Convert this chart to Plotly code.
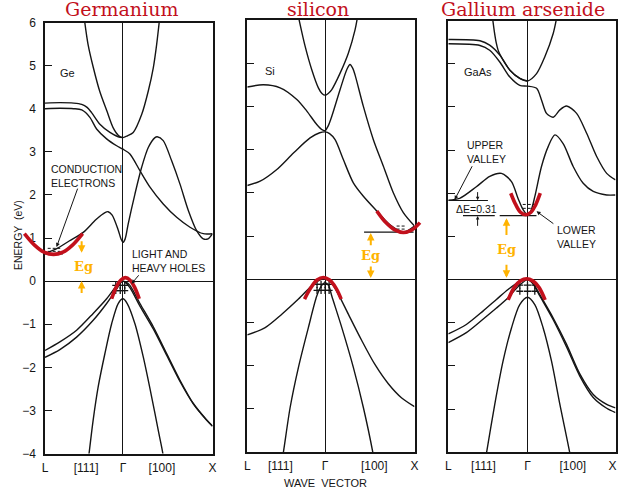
import plotly.graph_objects as go

W, H = 618, 495
BLACK = "#151515"
RED = "#c2101c"
GOLD = "#ffb300"
SANS = "Liberation Sans, Arial, sans-serif"
SERIF = "DejaVu Serif, serif"

# ---------------- tick labels ----------------
e_ticks = [-4, -3, -2, -1, 0, 1, 2, 3, 4, 5, 6]
k_ticktext = ["L", "[111]", "Γ", "[100]", "X"]
ge_kticks = [-0.87, -0.41, 0.0, 0.435, 1.0]
si_kticks = [-0.87, -0.50, 0.0, 0.55, 1.0]
ga_kticks = [-0.90, -0.50, 0.0, 0.515, 0.965]
titles = ["Germanium", "silicon", "Gallium arsenide"]

# ---------------- Germanium bands (k, E in eV) ----------------
ge_a_k = [-0.432, -0.39, -0.33, -0.26, -0.18, -0.11, -0.05, 0.0, 0.05, 0.115, 0.21, 0.283, 0.339, 0.377, 0.41]
ge_a_E = [6.1, 5.5, 4.95, 4.41, 3.95, 3.56, 3.38, 3.33, 3.37, 3.45, 3.87, 4.41, 4.95, 5.5, 6.1]
ge_b_k = [-0.87, -0.7, -0.55, -0.46, -0.40, -0.35, -0.257, -0.145, -0.053, 0.0]
ge_b_E = [4.13, 4.14, 4.13, 4.10, 4.03, 3.91, 3.64, 3.45, 3.35, 3.33]
ge_c_k = [-0.87, -0.7, -0.55, -0.46, -0.369, -0.294, -0.182, -0.07, 0.0, 0.078, 0.19, 0.302, 0.45, 0.6, 0.749, 0.897, 1.0]
ge_c_E = [4.0, 4.01, 4.0, 3.97, 3.80, 3.53, 3.30, 3.14, 3.06, 2.95, 2.56, 2.18, 1.79, 1.48, 1.25, 1.10, 1.10]
ge_d_k = [-0.87, -0.75, -0.6, -0.443, -0.3, -0.2, -0.165, -0.12, -0.052, -0.02, 0.0, 0.025, 0.059, 0.134,
          0.209, 0.283, 0.358, 0.383, 0.45, 0.544, 0.637, 0.73, 0.823, 0.897, 0.95, 1.0]
ge_d_E = [0.64, 0.74, 0.93, 1.13, 1.43, 1.59, 1.61, 1.53, 1.18, 0.97, 0.90, 0.98, 1.33, 2.02,
          2.64, 3.10, 3.33, 3.35, 3.26, 2.79, 2.25, 1.64, 1.17, 0.98, 0.98, 1.10]
ge_v1_k = [-0.87, -0.704, -0.517, -0.332, -0.182, -0.07, -0.03, 0.0, 0.03, 0.078, 0.19, 0.339, 0.488, 0.637, 0.786, 0.935, 1.0]
ge_v1_E = [-1.61, -1.41, -1.14, -0.75, -0.41, -0.10, -0.02, 0.0, -0.02, -0.10, -0.52, -1.06, -1.68, -2.30, -2.84, -3.22, -3.36]
ge_v2_k = [-0.87, -0.704, -0.517, -0.332, -0.182, -0.07, -0.03, 0.0, 0.03, 0.078, 0.19, 0.339, 0.488, 0.637, 0.786, 0.935, 1.0]
ge_v2_E = [-1.77, -1.59, -1.30, -0.91, -0.52, -0.18, -0.05, 0.0, -0.04, -0.15, -0.58, -1.11, -1.72, -2.33, -2.85, -3.23, -3.37]
ge_so_k = [-0.39, -0.377, -0.332, -0.276, -0.201, -0.126, -0.053, 0.0, 0.048, 0.134, 0.227, 0.321, 0.394, 0.444, 0.455]
ge_so_E = [-4.2, -3.98, -3.22, -2.45, -1.68, -0.99, -0.52, -0.41, -0.52, -0.99, -1.76, -2.69, -3.46, -3.98, -4.2]

# ---------------- Silicon bands ----------------
si_a_k = [-0.30, -0.287, -0.223, -0.149, -0.075, -0.035, 0.0, 0.035, 0.075, 0.168, 0.26, 0.335, 0.365]
si_a_E = [6.1, 5.97, 5.39, 4.85, 4.43, 4.30, 4.26, 4.30, 4.39, 4.77, 5.23, 5.77, 6.1]
si_b_k = [-0.87, -0.689, -0.503, -0.316, -0.204, -0.093, -0.04, 0.0, 0.035, 0.075, 0.168, 0.242, 0.279,
          0.31, 0.335, 0.428, 0.54, 0.651, 0.763, 0.875, 1.0]
si_b_E = [4.45, 4.50, 4.43, 4.16, 3.89, 3.58, 3.47, 3.44, 3.55, 3.77, 4.39, 4.85, 4.97,
          4.88, 4.73, 4.00, 3.23, 2.62, 2.00, 1.54, 1.23]
si_c_k = [-0.87, -0.726, -0.54, -0.354, -0.168, -0.06, 0.0, 0.05, 0.112, 0.204, 0.316, 0.428, 0.578, 0.726, 0.875, 1.0]
si_c_E = [2.17, 2.27, 2.54, 2.92, 3.27, 3.39, 3.41, 3.37, 3.23, 2.77, 2.23, 1.92, 1.58, 1.26, 1.09, 1.23]
si_hh_k = [-0.87, -0.67, -0.484, -0.298, -0.149, -0.06, 0.0, 0.06, 0.149, 0.26, 0.41, 0.559, 0.707, 0.857, 1.0]
si_hh_E = [-1.29, -1.12, -0.81, -0.46, -0.15, -0.02, 0.0, -0.05, -0.35, -0.81, -1.42, -1.98, -2.42, -2.75, -2.95]
si_lh_k = [-0.48, -0.466, -0.391, -0.298, -0.187, -0.093, -0.04, 0.0, 0.04, 0.075, 0.187, 0.316, 0.428, 0.533, 0.545]
si_lh_E = [-4.15, -4.0, -2.97, -2.04, -1.12, -0.39, -0.15, -0.08, -0.15, -0.39, -1.12, -2.04, -2.97, -4.0, -4.15]

# ---------------- Gallium arsenide bands ----------------
ga_a_k = [-0.40, -0.375, -0.355, -0.335, -0.31, -0.2, -0.088, 0.0, 0.103, 0.197, 0.292, 0.335]
ga_a_E = [6.1, 5.72, 5.48, 5.32, 5.20, 4.85, 4.66, 4.60, 4.77, 5.16, 5.70, 6.1]
ga_b_k = [-0.9, -0.54, -0.43, -0.315, -0.2, -0.088, 0.0]
ga_b_E = [5.56, 5.53, 5.43, 5.20, 4.85, 4.66, 4.60]
ga_c_k = [-0.9, -0.54, -0.43, -0.315, -0.2, -0.088, 0.0, 0.103, 0.159, 0.216, 0.292, 0.368, 0.444, 0.558, 0.672, 0.786, 0.9, 1.0]
ga_c_E = [5.46, 5.42, 5.31, 5.04, 4.69, 4.50, 4.48, 4.43, 4.16, 3.85, 3.76, 3.93, 4.02, 3.85, 3.39, 2.85, 2.46, 2.31]
ga_d_k = [-0.9, -0.771, -0.581, -0.429, -0.296, -0.182, -0.107, -0.05, 0.0, 0.04, 0.083, 0.159, 0.235,
          0.311, 0.405, 0.519, 0.633, 0.747, 0.9, 1.0]
ga_d_E = [1.84, 1.88, 2.15, 2.39, 2.46, 2.27, 1.88, 1.62, 1.50, 1.60, 1.92, 2.62, 3.08,
          3.35, 3.15, 2.62, 2.23, 2.04, 1.96, 1.96]
ga_v1_k = [-0.9, -0.695, -0.506, -0.353, -0.221, -0.1, 0.0, 0.06, 0.14, 0.292, 0.444, 0.596, 0.747, 0.9, 1.0]
ga_v1_E = [-1.26, -1.04, -0.73, -0.46, -0.23, -0.06, 0.0, -0.08, -0.35, -0.89, -1.50, -2.19, -2.66, -2.89, -2.97]
ga_v2_k = [-0.9, -0.695, -0.506, -0.353, -0.221, -0.1, 0.0, 0.06, 0.14, 0.292, 0.444, 0.596, 0.747, 0.9, 1.0]
ga_v2_E = [-1.46, -1.23, -0.92, -0.66, -0.42, -0.15, 0.0, -0.09, -0.38, -0.93, -1.56, -2.24, -2.73, -2.98, -3.08]
ga_so_k = [-0.48, -0.467, -0.372, -0.278, -0.182, -0.088, 0.0, 0.083, 0.178, 0.273, 0.368, 0.482, 0.495]
ga_so_E = [-4.2, -4.03, -2.89, -1.89, -1.12, -0.58, -0.41, -0.58, -1.12, -1.89, -2.89, -4.03, -4.2]

# ---------------- highlighted valleys / hole pockets (red) ----------------
ge_cb_red_k = [-1.10, -0.99, -0.88, -0.775, -0.67, -0.56, -0.45]
ge_cb_red_E = [1.10, 0.84, 0.67, 0.62, 0.67, 0.84, 1.10]
ge_vb_red_k = [-0.126, -0.075, -0.025, 0.028, 0.08, 0.13, 0.182]
ge_vb_red_E = [-0.41, -0.14, 0.02, 0.08, 0.02, -0.14, -0.41]
si_cb_red_k = [0.578, 0.68, 0.78, 0.875, 0.97, 1.061]
si_cb_red_E = [1.58, 1.31, 1.14, 1.08, 1.14, 1.31]
si_vb_red_k = [-0.23, -0.16, -0.09, -0.02, 0.05, 0.12, 0.18]
si_vb_red_E = [-0.46, -0.20, -0.02, 0.04, -0.02, -0.20, -0.46]
ga_cb_red_k = [-0.19, -0.135, -0.08, -0.02, 0.04, 0.09, 0.145]
ga_cb_red_E = [2.0, 1.74, 1.56, 1.50, 1.56, 1.72, 2.0]
ga_vb_red_k = [-0.22, -0.15, -0.08, -0.01, 0.06, 0.13, 0.20]
ga_vb_red_E = [-0.47, -0.18, -0.03, 0.02, -0.03, -0.18, -0.47]

# ---------------- level marks ----------------
ge_gap_k = [-0.87, -0.67]
ge_gap_E = [0.63, 0.63]
ge_el_k = [-0.84, -0.70]
ge_el_E1 = [0.76, 0.76]
ge_el_E2 = [0.69, 0.69]
si_gap_k = [0.436, 0.99]
si_gap_E = [1.09, 1.09]
si_el_k = [0.80, 0.91]
si_el_E1 = [1.23, 1.23]
si_el_E2 = [1.16, 1.16]
ga_up_k = [-0.9, -0.45]
ga_up_E = [1.83, 1.83]
ga_low1_k = [-0.733, -0.372]
ga_low2_k = [-0.316, 0.102]
ga_low_E = [1.48, 1.48]
ga_el_k = [-0.054, 0.083]
ga_el_E1 = [1.74, 1.74]
ga_el_E2 = [1.65, 1.65]

# holes (+ signs)
ge_holes_k = [-0.08, -0.03, 0.02, -0.08, -0.03, 0.02]
ge_holes_E = [-0.10, -0.10, -0.10, -0.22, -0.22, -0.22]
si_holes_k = [-0.09, -0.045, 0.0, 0.045, -0.09, -0.045, 0.0, 0.045]
si_holes_E = [-0.12, -0.12, -0.12, -0.12, -0.26, -0.26, -0.26, -0.26]
ga_holes_k = [-0.087, 0.0, 0.083, -0.087, 0.0, 0.083]
ga_holes_E = [-0.13, -0.13, -0.13, -0.27, -0.27, -0.27]

# ---------------- layout geometry (pixels) ----------------
GE_BOX = (45, 212.5, 22.5, 453.5)
SI_BOX = (247.3, 414.5, 20.0, 452.0)
GA_BOX = (448.3, 615.5, 20.5, 452.3)
GE_XR = [-0.87, 1.0]
SI_XR = [-0.87, 1.0]
GA_XR = [-0.90, 1.0]
E_RANGE = [-4, 6]


def xdom(l, r):
    return [l / W, r / W]


def ydom(box):
    return [1 - box[3] / H, 1 - box[2] / H]


def ext_range(box, xr, new_l, new_r):
    s = (xr[1] - xr[0]) / (box[1] - box[0])
    return [xr[0] - (box[0] - new_l) * s, xr[1] + (new_r - box[1]) * s]


fig = go.Figure()


def band(k, E, xa, ya, width=1.4):
    fig.add_trace(go.Scatter(x=k, y=E, mode="lines", xaxis=xa, yaxis=ya, hoverinfo="skip",
                             line=dict(color=BLACK, width=width, shape="spline", smoothing=0.8)))


def seg(k, E, xa, ya, dash="solid", width=1.1):
    fig.add_trace(go.Scatter(x=k, y=E, mode="lines", xaxis=xa, yaxis=ya, hoverinfo="skip",
                             line=dict(color=BLACK, width=width, dash=dash)))


def red(k, E, xa, ya):
    fig.add_trace(go.Scatter(x=k, y=E, mode="lines", xaxis=xa, yaxis=ya, hoverinfo="skip",
                             line=dict(color=RED, width=3.6, shape="spline", smoothing=1.0)))


def holes(k, E, xa, ya):
    fig.add_trace(go.Scatter(x=k, y=E, mode="markers", xaxis=xa, yaxis=ya, hoverinfo="skip",
                             marker=dict(symbol="cross-thin", size=5, line=dict(color=BLACK, width=1.3))))


# Germanium
for k, E in [(ge_a_k, ge_a_E), (ge_b_k, ge_b_E), (ge_c_k, ge_c_E), (ge_d_k, ge_d_E),
             (ge_v1_k, ge_v1_E), (ge_v2_k, ge_v2_E), (ge_so_k, ge_so_E)]:
    band(k, E, "x", "y")
seg(ge_gap_k, ge_gap_E, "x", "y")
seg(ge_el_k, ge_el_E1, "x", "y", dash="3px,2px", width=1)
seg(ge_el_k, ge_el_E2, "x", "y", dash="3px,2px", width=1)
holes(ge_holes_k, ge_holes_E, "x", "y")

# Silicon
for k, E in [(si_a_k, si_a_E), (si_b_k, si_b_E), (si_c_k, si_c_E), (si_hh_k, si_hh_E), (si_lh_k, si_lh_E)]:
    band(k, E, "x2", "y2")
seg(si_gap_k, si_gap_E, "x2", "y2")
seg(si_el_k, si_el_E1, "x2", "y2", dash="3px,2px", width=1)
seg(si_el_k, si_el_E2, "x2", "y2", dash="3px,2px", width=1)
holes(si_holes_k, si_holes_E, "x2", "y2")

# GaAs
for k, E in [(ga_a_k, ga_a_E), (ga_b_k, ga_b_E), (ga_c_k, ga_c_E), (ga_d_k, ga_d_E),
             (ga_v1_k, ga_v1_E), (ga_v2_k, ga_v2_E), (ga_so_k, ga_so_E)]:
    band(k, E, "x3", "y3")
seg(ga_up_k, ga_up_E, "x3", "y3")
seg(ga_low1_k, ga_low_E, "x3", "y3")
seg(ga_low2_k, ga_low_E, "x3", "y3")
seg(ga_el_k, ga_el_E1, "x3", "y3", dash="3px,2px", width=1)
seg(ga_el_k, ga_el_E2, "x3", "y3", dash="3px,2px", width=1)
holes(ga_holes_k, ga_holes_E, "x3", "y3")

# red highlights (overlay axes allow drawing past the frames)
red(ge_cb_red_k, ge_cb_red_E, "x4", "y4")
red(ge_vb_red_k, ge_vb_red_E, "x4", "y4")
red(si_cb_red_k, si_cb_red_E, "x5", "y5")
red(si_vb_red_k, si_vb_red_E, "x5", "y5")
red(ga_cb_red_k, ga_cb_red_E, "x3", "y3")
red(ga_vb_red_k, ga_vb_red_E, "x3", "y3")

frame = dict(showline=True, mirror=True, linecolor=BLACK, linewidth=1.5, showgrid=False,
             zeroline=True, zerolinecolor=BLACK, zerolinewidth=1.1, fixedrange=True, automargin=False)
xcommon = dict(frame, ticks="", tickfont=dict(family=SANS, size=12, color=BLACK), ticklabelstandoff=2,
               tickmode="array", ticktext=k_ticktext)
ycommon = dict(frame, range=E_RANGE, tickmode="array", tickvals=e_ticks, ticks="inside", ticklen=7,
               tickwidth=1.2, tickcolor=BLACK, tickfont=dict(family=SANS, size=12, color=BLACK))
hidden = dict(visible=False, fixedrange=True, automargin=False)

layout = dict(
    template="none",
    width=W, height=H, autosize=False, margin=dict(l=0, r=0, t=0, b=0, pad=0), showlegend=False,
    paper_bgcolor="white", plot_bgcolor="rgba(0,0,0,0)",
    xaxis=dict(xcommon, domain=xdom(GE_BOX[0], GE_BOX[1]), range=GE_XR, tickvals=ge_kticks, anchor="y"),
    yaxis=dict(ycommon, domain=ydom(GE_BOX), anchor="x", showticklabels=True, ticklabelstandoff=5),
    xaxis2=dict(xcommon, domain=xdom(SI_BOX[0], SI_BOX[1]), range=SI_XR, tickvals=si_kticks, anchor="y2"),
    yaxis2=dict(ycommon, domain=ydom(SI_BOX), anchor="x2", showticklabels=False),
    xaxis3=dict(xcommon, domain=xdom(GA_BOX[0], GA_BOX[1]), range=GA_XR, tickvals=ga_kticks, anchor="y3"),
    yaxis3=dict(ycommon, domain=ydom(GA_BOX), anchor="x3", showticklabels=False),
    xaxis4=dict(hidden, domain=xdom(15, GE_BOX[1]), range=ext_range(GE_BOX, GE_XR, 15, GE_BOX[1]), anchor="y4"),
    yaxis4=dict(hidden, domain=ydom(GE_BOX), range=E_RANGE, anchor="x4"),
    xaxis5=dict(hidden, domain=xdom(SI_BOX[0], 428), range=ext_range(SI_BOX, SI_XR, SI_BOX[0], 428), anchor="y5"),
    yaxis5=dict(hidden, domain=ydom(SI_BOX), range=E_RANGE, anchor="x5"),
)
fig.update_layout(**layout)

ann = []
# titles
for text, cx in zip(titles, [121.5, 318, 522.5]):
    ann.append(dict(text=text, x=cx / W, y=1 - 22 / H, xref="paper", yref="paper", showarrow=False,
                    xanchor="center", yanchor="bottom", font=dict(family=SERIF, size=19, color=RED)))
ann.append(dict(text="ENERGY  (eV)", x=18 / W, y=1 - 235 / H, xref="paper", yref="paper", showarrow=False,
                xanchor="center", yanchor="middle",
                textangle=-90, font=dict(family=SANS, size=10.5, color=BLACK)))
ann.append(dict(text="WAVE  VECTOR", x=325 / W, y=1 - 483 / H, xref="paper", yref="paper", showarrow=False,
                xanchor="center", yanchor="middle", font=dict(family=SANS, size=11, color=BLACK)))


def label(text, x, y, xa, ya, size=10.5, xanchor="left"):
    ann.append(dict(text=text, x=x, y=y, xref=xa, yref=ya, showarrow=False, xanchor=xanchor,
                    yanchor="middle", align="left", font=dict(family=SANS, size=size, color=BLACK)))


def pointer(x, y, ax, ay, xa, ya, color=BLACK, width=1, size=0.8):
    ann.append(dict(text="", x=x, y=y, ax=ax, ay=ay, xref=xa, yref=ya, axref=xa, ayref=ya,
                    showarrow=True, arrowhead=2, arrowsize=size, arrowwidth=width, arrowcolor=color))


def eg(x, y, xa, ya):
    ann.append(dict(text="<b>Eg</b>", x=x, y=y, xref=xa, yref=ya, showarrow=False,
                    font=dict(family=SERIF, size=13, color=GOLD)))


GOLD_W, GOLD_S = 2, 0.75

# Germanium labels
label("Ge", -0.73, 4.83, "x", "y", size=11)
label("CONDUCTION<br>ELECTRONS", -0.82, 2.45, "x", "y")
pointer(-0.741, 0.79, -0.50, 2.18, "x", "y")
label("LIGHT AND<br>HEAVY HOLES", 0.078, 0.47, "x", "y")
pointer(0.097, -0.06, 0.19, 0.17, "x", "y")
pointer(-0.461, 0.66, -0.461, 0.96, "x", "y", color=GOLD, width=GOLD_W, size=GOLD_S)
pointer(-0.461, 0.0, -0.461, -0.31, "x", "y", color=GOLD, width=GOLD_W, size=GOLD_S)
eg(-0.44, 0.35, "x", "y")

# Silicon labels
label("Si", -0.70, 4.83, "x2", "y2", size=11)
pointer(0.511, 1.07, 0.511, 0.75, "x2", "y2", color=GOLD, width=GOLD_W, size=GOLD_S)
pointer(0.511, 0.03, 0.511, 0.33, "x2", "y2", color=GOLD, width=GOLD_W, size=GOLD_S)
eg(0.511, 0.54, "x2", "y2")

# GaAs labels
label("GaAs", -0.74, 4.81, "x3", "y3", size=11)
label("UPPER<br>VALLEY", -0.714, 2.95, "x3", "y3")
pointer(-0.828, 1.85, -0.62, 2.66, "x3", "y3")
label("LOWER<br>VALLEY", 0.311, 0.98, "x3", "y3")
pointer(0.103, 1.58, 0.311, 1.27, "x3", "y3")
label("ΔE=0.31", -0.583, 1.64, "x3", "y3", xanchor="center")
pointer(-0.567, 1.84, -0.567, 2.06, "x3", "y3", size=0.7)
pointer(-0.567, 1.47, -0.567, 1.21, "x3", "y3", size=0.7)
pointer(-0.239, 1.42, -0.239, 1.0, "x3", "y3", color=GOLD, width=GOLD_W, size=GOLD_S)
pointer(-0.239, 0.04, -0.239, 0.38, "x3", "y3", color=GOLD, width=GOLD_W, size=GOLD_S)
eg(-0.239, 0.69, "x3", "y3")

fig.update_layout(annotations=ann)
fig.write_html("out.html", config={"displayModeBar": False},
               post_script="document.body.style.margin='0px';document.body.style.overflow='hidden';")
